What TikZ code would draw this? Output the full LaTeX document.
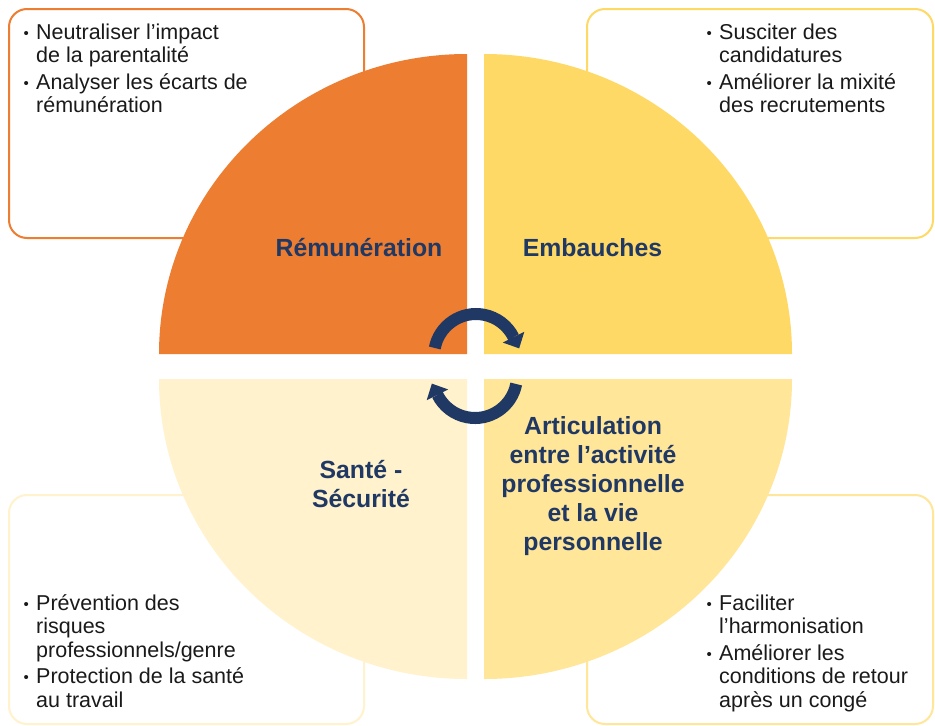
\documentclass[tikz,border=0pt]{standalone}
\usepackage{fontspec}
\setmainfont{Liberation Sans}
\usetikzlibrary{arrows.meta}
\definecolor{cOrange}{HTML}{ED7D31}
\definecolor{cYellow}{HTML}{FFD966}
\definecolor{cPale}{HTML}{FFF2CC}
\definecolor{cLight}{HTML}{FFE699}
\definecolor{cNavy}{HTML}{203864}
\definecolor{cText}{HTML}{1A1A1A}
\newcommand{\bitem}{\makebox[0pt][r]{\raisebox{1pt}{\fontsize{15}{15}\selectfont •}\hspace{7.4pt}}}
\begin{document}
\begin{tikzpicture}[x=1pt,y=1pt,
  infobox/.style={draw=#1, line width=2pt, fill=white, rounded corners=18pt},
  cyclearrow/.style={draw=cNavy, line width=12pt, -{Triangle[width=24pt,length=12.5pt,line width=0pt]}},
  title/.style={font=\bfseries\fontsize{24.8}{29}\selectfont, text=cNavy, inner sep=0pt, align=center},
  bullets/.style={font=\fontsize{21.5}{23.5}\selectfont, text=cText, inner sep=0pt, anchor=base west}]
\useasboundingbox (0,0) rectangle (935,-726);
\fill[white] (0,0) rectangle (935,-726);
% boxes
\draw[infobox=cOrange] (9,-9) rectangle (364,-238);
\draw[infobox=cYellow] (587,-9) rectangle (933,-238);
\draw[infobox=cPale] (9,-495) rectangle (364,-724);
\draw[infobox=cLight] (587,-495) rectangle (933,-724);
% quarters
\fill[cOrange] (467,-354) -- (159,-354) arc[start angle=180,end angle=90,x radius=308,y radius=300] -- cycle;
\fill[cYellow] (484,-354) -- (484,-54) arc[start angle=90,end angle=0,x radius=308,y radius=300] -- cycle;
\fill[cPale] (467,-379) -- (159,-379) arc[start angle=180,end angle=270,x radius=308,y radius=300] -- cycle;
\fill[cLight] (484,-379) -- (792,-379) arc[start angle=0,end angle=-90,x radius=308,y radius=300] -- cycle;
% cycle arrows
\coordinate (topc) at (476,-356);
\coordinate (botc) at (475,-376);
\draw[cyclearrow] (topc) ++(169:42) arc[start angle=169,end angle=26.6,radius=42] -- ++(-63.4:12.5);
\draw[cyclearrow] (botc) ++(-11:42) arc[start angle=-11,end angle=-153.4,radius=42] -- ++(116.6:12.5);
% titles
\node[title, anchor=base] (rem) at (359,-256) {Rémunération};
\node[title, anchor=base] (emb) at (592.5,-256) {Embauches};
\node[title] (sante) at (361,-484) {Santé -\\Sécurité};
\node[title] (artic) at (593,-486) {Articulation\\entre l’activité\\professionnelle\\et la vie\\personnelle};
% bullet lists
\node[bullets] (tl) at (36,-39) {\begin{tabular}[t]{@{}l@{}}\bitem Neutraliser l’impact\\de la parentalité\\[3pt]\bitem Analyser les écarts de\\rémunération\end{tabular}};
\node[bullets] (tr) at (719,-39) {\begin{tabular}[t]{@{}l@{}}\bitem Susciter des\\candidatures\\[3pt]\bitem Améliorer la mixité\\des recrutements\end{tabular}};
\node[bullets] (bl) at (36,-610) {\begin{tabular}[t]{@{}l@{}}\bitem Prévention des\\risques\\professionnels/genre\\[3pt]\bitem Protection de la santé\\au travail\end{tabular}};
\node[bullets] (br) at (719,-610) {\begin{tabular}[t]{@{}l@{}}\bitem Faciliter\\l’harmonisation\\[3pt]\bitem Améliorer les\\conditions de retour\\après un congé\end{tabular}};
\end{tikzpicture}
\end{document}
